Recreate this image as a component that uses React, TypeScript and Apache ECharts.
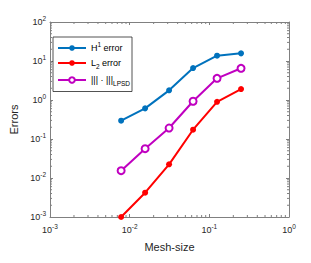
import React, { useEffect, useRef } from "react";
import * as echarts from "echarts";

const meshSize = [1 / 128, 1 / 64, 1 / 32, 1 / 16, 1 / 8, 1 / 4];
const h1Error = [0.295, 0.61, 1.77, 6.6, 13.7, 15.7];
const l2Error = [0.001, 0.0042, 0.0224, 0.173, 0.9, 1.91];
const lpsdError = [0.0154, 0.0564, 0.191, 0.93, 3.6, 6.5];

const seriesNames = ["H1", "L2", "LPSD"];
const xRange = [1e-3, 1];
const yRange = [1e-3, 1e2];

const FONT = "Liberation Sans, Arial, Helvetica, sans-serif";
const AX = "#262626";
const LINE = "#808080";

function minorValues(lo: number, hi: number): number[] {
  const out: number[] = [];
  for (let e = Math.round(Math.log10(lo)); e < Math.round(Math.log10(hi)); e++) {
    for (let m = 2; m <= 9; m++) out.push(m * Math.pow(10, e));
  }
  return out;
}

const powLabel = (v: number) => {
  const e = Math.round(Math.log10(v));
  return `{b|10}{s|${e}}`;
};

const tickRich = {
  b: { fontSize: 9, fontFamily: FONT, color: AX },
  s: { fontSize: 6.5, fontFamily: FONT, color: AX, padding: [0, 0, 7, 0] },
};

export default function App() {
  const ref = useRef<HTMLDivElement>(null);
  useEffect(() => {
    if (!ref.current) return;
    const chart = echarts.init(ref.current, null, { renderer: "svg" });
    const pair = (ys: number[]) => meshSize.map((x, i) => [x, ys[i]]);
    const yMinor = minorValues(yRange[0], yRange[1]);
    const xMinor = minorValues(xRange[0], xRange[1]);

    const axisCommon = {
      type: "log" as const,
      logBase: 10,
      axisLine: { show: true, lineStyle: { color: LINE, width: 1 } },
      axisTick: { show: true, inside: true, length: 3, lineStyle: { color: LINE } },
      splitLine: { show: false },
    };

    chart.setOption({
      animation: false,
      backgroundColor: "#ffffff",
      grid: { left: 42, top: 22, width: 247, height: 195, containLabel: false },
      legend: {
        data: seriesNames,
        orient: "vertical",
        left: 53,
        top: 37,
        padding: [4, 2, 5, 4],
        itemWidth: 28,
        itemHeight: 7,
        itemGap: 6,
        borderColor: AX,
        borderWidth: 0.8,
        backgroundColor: "#ffffff",
        selectedMode: false,
        formatter: (name: string) => {
          if (name === "H1") return "{t|H}{s|1}{t| error}";
          if (name === "L2") return "{t|L}{d|2}{t| error}";
          return "{t|||| · |||}{d|LPSD}";
        },
        textStyle: {
          fontFamily: FONT,
          fontSize: 9,
          color: "#000",
          rich: {
            t: { fontSize: 9, fontFamily: FONT, color: "#000" },
            s: { fontSize: 6.5, fontFamily: FONT, color: "#000", padding: [0, 0, 7, 0] },
            d: { fontSize: 6.5, fontFamily: FONT, color: "#000", padding: [6, 0, 0, 0] },
          },
        },
      },
      xAxis: [
        {
          ...axisCommon,
          min: xRange[0],
          max: xRange[1],
          position: "bottom",
          name: "Mesh-size",
          nameLocation: "middle",
          nameGap: 24,
          nameTextStyle: { fontFamily: FONT, fontSize: 11, color: AX },
          axisLabel: { formatter: powLabel, rich: tickRich, margin: 6 },
        },
        {
          ...axisCommon,
          min: xRange[0],
          max: xRange[1],
          position: "top",
          axisLabel: { show: false },
        },
      ],
      yAxis: [
        {
          ...axisCommon,
          min: yRange[0],
          max: yRange[1],
          position: "left",
          name: "Errors",
          nameLocation: "middle",
          nameGap: 31,
          nameTextStyle: { fontFamily: FONT, fontSize: 11, color: AX },
          axisLabel: { formatter: powLabel, rich: tickRich, margin: 4 },
        },
        {
          ...axisCommon,
          min: yRange[0],
          max: yRange[1],
          position: "right",
          axisLabel: { show: false },
        },
      ],
      series: [
        {
          name: "H1",
          type: "line",
          data: pair(h1Error),
          symbol: "circle",
          symbolSize: 6,
          itemStyle: { color: "#0072BD" },
          lineStyle: { color: "#0072BD", width: 2 },
        },
        {
          name: "L2",
          type: "line",
          data: pair(l2Error),
          symbol: "circle",
          symbolSize: 6,
          itemStyle: { color: "#FF0000" },
          lineStyle: { color: "#FF0000", width: 2 },
        },
        {
          name: "LPSD",
          type: "line",
          data: pair(lpsdError),
          symbol: "emptyCircle",
          symbolSize: 7,
          itemStyle: { color: "#C000C0", borderColor: "#C000C0", borderWidth: 1.5 },
          lineStyle: { color: "#C000C0", width: 2 },
        },
        {
          type: "custom",
          silent: true,
          data: yMinor.map((v) => [xRange[0], v]),
          renderItem: (params: any, api: any) => {
            const cs = params.coordSys;
            const p = api.coord([xRange[0], api.value(1)]);
            const st = { stroke: LINE, lineWidth: 1 };
            return {
              type: "group",
              children: [
                { type: "line", shape: { x1: cs.x, y1: p[1], x2: cs.x + 2, y2: p[1] }, style: st },
                { type: "line", shape: { x1: cs.x + cs.width - 2, y1: p[1], x2: cs.x + cs.width, y2: p[1] }, style: st },
              ],
            };
          },
        },
        {
          type: "custom",
          silent: true,
          data: xMinor.map((v) => [v, yRange[0]]),
          renderItem: (params: any, api: any) => {
            const cs = params.coordSys;
            const p = api.coord([api.value(0), yRange[0]]);
            const st = { stroke: LINE, lineWidth: 1 };
            return {
              type: "group",
              children: [
                { type: "line", shape: { x1: p[0], y1: cs.y, x2: p[0], y2: cs.y + 2 }, style: st },
                { type: "line", shape: { x1: p[0], y1: cs.y + cs.height - 2, x2: p[0], y2: cs.y + cs.height }, style: st },
              ],
            };
          },
        },
      ],
    });
    return () => chart.dispose();
  }, []);
  return (
    <div
      ref={ref}
      style={{ position: "fixed", left: 0, top: 0, width: 311, height: 263 }}
    />
  );
}
